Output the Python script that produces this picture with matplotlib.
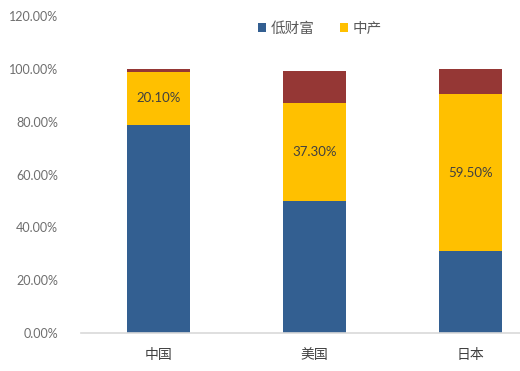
import matplotlib
matplotlib.use("Agg")
import matplotlib.pyplot as plt
from matplotlib.ticker import FuncFormatter

plt.rcParams['font.family'] = ['Lato', 'Noto Sans CJK SC', 'DejaVu Sans']

countries = ['中国', '美国', '日本']
low_wealth = [78.8, 49.8, 31.0]
middle = [20.1, 37.3, 59.5]
high_wealth = [1.1, 12.1, 9.5]
series_names = ['低财富', '中产']

blue = '#335f91'
gold = '#ffc000'
red = '#953735'

fig = plt.figure(figsize=(5.2, 3.71), dpi=100)
ax = fig.add_axes([80.5 / 520, 38 / 371, 468 / 520, 317 / 371])

x = list(range(len(countries)))
w = 0.40
b1 = ax.bar(x, low_wealth, w, color=blue, label=series_names[0])
b2 = ax.bar(x, middle, w, bottom=low_wealth, color=gold, label=series_names[1])
bottom3 = [a + b for a, b in zip(low_wealth, middle)]
ax.bar(x, high_wealth, w, bottom=bottom3, color=red)

for i, v in enumerate(middle):
    ax.text(i, low_wealth[i] + v / 2, '%.2f%%' % v, ha='center', va='center',
            fontsize=9.5, color='#404040')

ax.set_xlim(-0.5, 2.5)
ax.set_ylim(0, 120)
ax.set_yticks(range(0, 121, 20))
ax.yaxis.set_major_formatter(FuncFormatter(lambda v, p: '%.2f%%' % v))
ax.set_xticks(x)
ax.set_xticklabels(countries, fontfamily=['Noto Sans CJK SC'], fontsize=10,
                   color='#404040', fontweight='light')
ax.tick_params(axis='y', length=0, pad=16, labelsize=9, labelcolor='#6e6e6e')
ax.tick_params(axis='x', length=0, pad=11)

for s in ['top', 'right', 'left']:
    ax.spines[s].set_visible(False)
ax.spines['bottom'].set_color('#d9d9d9')
ax.spines['bottom'].set_linewidth(1.2)

leg = fig.legend(handles=[b1, b2], loc='center', bbox_to_anchor=(320 / 520, 1 - 29 / 371),
                 ncol=2, frameon=False, handlelength=0.55, handleheight=0.55,
                 handletextpad=0.3, columnspacing=1.8,
                 prop={'family': ['Noto Sans CJK SC'], 'size': 10.5, 'weight': 'light'})
for t in leg.get_texts():
    t.set_color('#595959')

fig.savefig('out.png', dpi=100)
